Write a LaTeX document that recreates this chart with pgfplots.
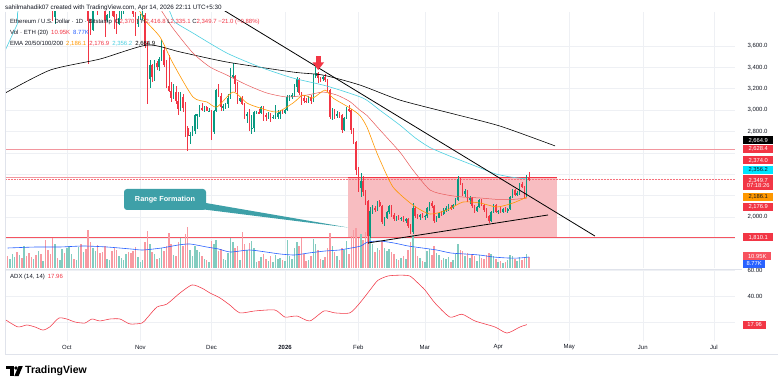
\documentclass[border=0pt]{standalone}
\usepackage{pgfplots}
\pgfplotsset{compat=1.18}
\usepackage{pgfplotstable}
\usepackage{fontspec}
\setmainfont{Liberation Sans}
\newcommand{\fs}[1]{\fontsize{#1}{#1}\selectfont}
\definecolor{upc}{HTML}{089981}
\definecolor{dnc}{HTML}{F23645}
\definecolor{volup}{HTML}{83CCC0}
\definecolor{voldn}{HTML}{F89AA2}
\definecolor{volma}{HTML}{2962FF}
\definecolor{emaA}{HTML}{FF9800}
\definecolor{emaB}{HTML}{E85A5A}
\definecolor{emaC}{HTML}{4DD0E1}
\definecolor{emaCbox}{HTML}{00E5FF}
\definecolor{gridc}{HTML}{EEF0F4}
\definecolor{bordc}{HTML}{E0E3EB}
\definecolor{txt}{HTML}{131722}
\definecolor{pinkr}{HTML}{F8BDC1}
\definecolor{lvl}{HTML}{F2969E}
\definecolor{callc}{HTML}{3EA0A8}
\definecolor{adxc}{HTML}{F23645}
\definecolor{volbox}{HTML}{F7525F}

\pgfplotstableread{
d o h l c v
-117 4300 4330 4270 4275 12
-116 4275 4320 4260 4305 9
-115 4305 4380 4280 4310 14
-114 4310 4370 4270 4350 11
-113 4350 4380 4290 4310 16
-112 4310 4460 4300 4450 13
-111 4450 4500 4390 4420 10
-110 4420 4680 4410 4660 22
-109 4660 4670 4580 4610 12
-108 4610 4620 4480 4530 15
-107 4530 4560 4450 4500 11
-106 4500 4530 4450 4510 9
-105 4510 4520 4440 4490 13
-104 4490 4600 4470 4570 17
-103 4570 4590 4460 4470 14
-102 4470 4490 4450 4480 7
-101 4480 4490 4080 4200 28
-100 4200 4220 4100 4170 18
-99 4170 4190 4080 4150 14
-98 4150 4160 3830 3870 30
-97 3870 4030 3810 4020 24
-96 4020 4030 3980 4000 10
-95 4000 4060 3990 4030 8
-94 4030 4230 3970 4210 19
-93 4210 4230 4100 4140 15
-92 4140 4360 4120 4350 20
-91 4350 4500 4330 4480 22
-90 4480 4540 4440 4510 14
-89 4510 4530 4460 4490 9
-88 4490 4540 4480 4510 8
-87 4510 4760 4500 4690 21
-86 4690 4750 4460 4470 24
-85 4470 4530 4380 4520 16
-84 4520 4530 4330 4370 19
-83 4370 4390 3435 3830 38
-82 3830 3850 3700 3750 26
-81 3750 4160 3740 4150 20
-80 4150 4290 4060 4250 17
-79 4250 4270 3890 4130 23
-78 4130 4200 3980 4030 15
-77 4030 4140 3930 3980 16
-76 3980 4020 3680 3840 22
-75 3840 3900 3820 3890 9
-74 3890 4020 3860 3980 8
-73 3980 4080 3880 3960 17
-72 3960 4100 3760 3870 20
-71 3870 3900 3710 3810 18
-70 3810 3950 3800 3860 12
-69 3860 3960 3850 3950 10
-68 3950 4010 3900 3960 8
-67 3960 4150 3930 4140 14
-66 4140 4250 4100 4120 16
-65 4120 4140 3940 3980 15
-64 3980 4030 3870 3900 17
-63 3900 3920 3690 3810 21
-62 3810 3880 3780 3850 11
-61 3850 3900 3840 3870 6
-60 3870 3930 3840 3890 8
-59 3890 3910 3580 3600 26
-58 3600 3650 3060 3290 37
-57 3290 3470 3210 3420 24
-56 3420 3430 3260 3310 16
-55 3310 3470 3270 3440 14
-54 3440 3460 3380 3400 9
-53 3400 3500 3370 3480 10
-52 3480 3660 3460 3560 20
-51 3560 3590 3400 3420 17
-50 3420 3470 3210 3230 22
-49 3230 3520 3170 3180 35
-48 3180 3260 3080 3110 24
-47 3110 3240 3100 3170 13
-46 3170 3230 3060 3090 12
-45 3090 3170 2950 3010 26
-44 3010 3170 2990 3120 30
-43 3120 3150 2980 3020 22
-42 3020 3080 2750 2830 34
-41 2830 2850 2620 2760 41
-40 2760 2800 2680 2770 18
-39 2770 2850 2760 2800 12
-38 2800 2960 2780 2950 22
-37 2950 2960 2820 2960 18
-36 2960 3050 2940 3020 16
-35 3020 3070 2990 3010 12
-34 3010 3040 2980 3030 9
-33 3030 3040 2990 2990 8
-32 2990 3020 2980 2990 6
-31 2990 3000 2720 2800 27
-30 2800 3000 2780 2990 24
-29 2990 3200 2980 3190 28
-28 3190 3240 3120 3130 17
-27 3130 3160 2990 3030 19
-26 3030 3060 2990 3030 9
-25 3030 3070 3010 3060 8
-24 3060 3150 3020 3110 15
-23 3110 3390 3100 3320 30
-22 3320 3440 3300 3320 26
-21 3320 3330 3170 3240 20
-20 3240 3260 3060 3090 22
-19 3090 3120 3080 3110 8
-18 3110 3130 3050 3060 36
-17 3060 3070 2920 2950 24
-16 2950 2980 2880 2960 18
-15 2960 3010 2800 2830 25
-14 2830 2950 2780 2830 27
-13 2830 2990 2800 2980 20
-12 2980 2990 2960 2980 6
-11 2980 3010 2960 2970 7
-10 2970 3040 2960 3030 11
-9 3030 3040 2900 2950 14
-8 2950 2970 2900 2940 9
-7 2940 2980 2920 2960 7
-6 2960 2970 2890 2930 12
-5 2930 2950 2920 2940 6
-4 2940 3050 2920 2940 13
-3 2940 3000 2920 2970 9
-2 2970 3000 2920 2980 10
-1 2980 3000 2960 2970 8
0 2970 3010 2960 3000 7
1 3000 3140 2990 3120 28
2 3120 3140 3090 3130 12
3 3130 3160 3100 3140 9
4 3140 3240 3120 3220 20
5 3220 3310 3170 3290 26
6 3290 3300 3140 3160 22
7 3160 3170 3050 3110 30
8 3110 3140 3070 3090 14
9 3090 3110 3070 3080 7
10 3080 3130 3070 3120 8
11 3120 3140 3060 3090 12
12 3090 3340 3080 3320 29
13 3320 3400 3300 3350 24
14 3350 3360 3250 3300 18
15 3300 3310 3260 3290 9
16 3290 3320 3270 3310 8
17 3310 3340 3260 3280 11
18 3280 3290 3170 3190 20
19 3190 3200 2920 2940 35
20 2940 3020 2910 2980 22
21 2980 3010 2920 2950 16
22 2950 2990 2930 2960 12
23 2960 2980 2930 2950 8
24 2950 2960 2790 2810 20
25 2810 2940 2800 2930 18
26 2930 3030 2920 3010 27
27 3010 3050 2980 3000 14
28 3000 3010 2780 2810 32
29 2810 2830 2680 2700 38
30 2700 2710 2390 2440 40
31 2440 2470 2230 2270 30
32 2270 2410 2190 2340 34
33 2340 2380 2200 2230 28
34 2230 2250 2110 2150 36
35 2150 2160 1750 1820 50
36 1820 2090 1800 2060 44
37 2060 2110 2030 2085 24
38 2085 2100 2050 2070 16
39 2070 2150 2060 2140 20
40 2140 2160 2090 2100 18
41 2100 2110 1930 1950 27
42 1950 2000 1920 1990 20
43 1990 2060 1980 2050 17
44 2050 2110 2030 2100 19
45 2100 2110 2000 2020 16
46 2020 2040 1960 1980 14
47 1980 2010 1960 2000 9
48 2000 2020 1970 1985 8
49 1985 2000 1960 1990 10
50 1990 2010 1950 1970 12
51 1970 1990 1940 1980 9
52 1980 1990 1900 1920 18
53 1920 1930 1840 1860 26
54 1860 2130 1845 2080 33
55 2080 2100 1990 2010 20
56 2010 2030 1980 2000 12
57 2000 2030 1970 2020 10
58 2020 2040 1990 2000 7
59 2000 2020 1970 2010 6
60 2010 2090 1995 2080 17
61 2080 2140 2060 2130 19
62 2130 2150 2080 2100 13
63 2100 2110 1940 1960 22
64 1960 2010 1950 1995 15
65 1995 2050 1990 2040 13
66 2040 2060 2010 2030 8
67 2030 2080 2020 2070 10
68 2070 2100 2050 2080 9
69 2080 2120 2060 2090 11
70 2090 2110 2070 2080 6
71 2080 2120 2075 2110 8
72 2110 2180 2100 2160 14
73 2160 2380 2150 2360 24
74 2360 2370 2300 2315 18
75 2315 2320 2200 2215 17
76 2215 2260 2190 2240 12
77 2240 2250 2140 2160 15
78 2160 2200 2120 2180 10
79 2180 2190 2080 2100 14
80 2100 2110 2040 2060 12
81 2060 2100 2050 2090 7
82 2090 2170 2080 2160 13
83 2160 2170 2100 2110 10
84 2110 2120 2050 2065 9
85 2065 2080 1990 2010 13
86 2010 2020 1940 1960 15
87 1960 2060 1950 2050 14
88 2050 2120 2040 2110 12
89 2110 2120 2040 2050 9
90 2050 2070 2030 2060 6
91 2060 2090 2040 2050 7
92 2050 2085 2040 2075 5
93 2075 2090 2050 2065 6
94 2065 2080 2040 2075 8
95 2075 2200 2070 2190 13
96 2190 2260 2180 2250 12
97 2250 2260 2200 2210 9
98 2210 2240 2195 2220 7
99 2220 2320 2210 2310 11
100 2310 2330 2270 2280 8
101 2280 2290 2180 2195 10
102 2195 2395 2185 2370.7 14
103 2370.7 2416.8 2335.1 2349.7 11
}\candles

\pgfplotsset{
  tvaxis/.style={scale only axis, anchor=south west, width=730pt,
    xmin=-118.1, xmax=189.9, axis line style={draw=none}, tick style={draw=none},
    xtick={-92,-61,-31,0,31,59,90,120,151,181}, xticklabels={},
    /pgf/number format/assume math mode=true, scaled y ticks=false},
  upsel/.style={restrict expr to domain={\thisrow{c}-\thisrow{o}}{0:100000}},
  dnsel/.style={restrict expr to domain={\thisrow{c}-\thisrow{o}}{-100000:-0.001}},
  candle/.style n args={3}{draw=none, mark=none, forget plot, #1, error bars/.cd, y dir=both, y explicit,
    error mark=none, error bar style={draw=#2, line width=#3, solid}},
}

\begin{document}
\begin{tikzpicture}[x=1pt,y=1pt]
\path[fill=white,use as bounding box] (0,0) rectangle (783,388);

% ---------- price pane: grid, labels, levels, range box ----------
\begin{axis}[tvaxis, at={(5pt,120pt)}, height=256pt, ymin=1523, ymax=3918,
  xmajorgrids, ymajorgrids, grid style={gridc, line width=0.5pt},
  ytick={2000,2800,3000,3200,3400,3600},
  extra y ticks={1800,2200,2400,2600}, extra y tick labels={},
  extra y tick style={grid=major},
  yticklabel pos=right,
  yticklabel style={anchor=west, xshift=9pt, font=\fs{6}, text=txt,
    /pgf/number format/fixed, /pgf/number format/fixed zerofill,
    /pgf/number format/precision=1, /pgf/number format/1000 sep={,}}]
\addplot[draw=none, fill=pinkr] coordinates {(26.6,1810.1) (26.6,2374) (114.8,2374) (114.8,1810.1)} -- cycle;
\addplot[lvl, line width=1pt] coordinates {(-118.1,2628.4) (189.9,2628.4)};
\addplot[lvl, line width=0.7pt] coordinates {(-118.1,2374) (114.8,2374)};
\addplot[dnc, line width=0.8pt] coordinates {(26.6,2374) (114.8,2374)};
\addplot[dnc!70, densely dotted, line width=0.5pt] coordinates {(-118.1,2349.7) (189.9,2349.7)};
\addplot[dnc!85, line width=0.7pt] coordinates {(-118.1,1810.1) (189.9,1810.1)};
\end{axis}

% ---------- volume ----------
\begin{axis}[tvaxis, at={(5pt,120pt)}, height=256pt, ymin=0, ymax=256, ytick=\empty, xtick=\empty]
\addplot[ycomb, draw=volup, line width=1.5pt, mark=none, upsel] table[x=d, y=v] {\candles};
\addplot[ycomb, draw=voldn, line width=1.5pt, mark=none, dnsel] table[x=d, y=v] {\candles};
\addplot[volma, line width=0.6pt, mark=none, smooth, tension=0.4] coordinates {
(-117,20) (-105,21) (-95,21) (-85,22) (-75,21) (-65,19) (-60,18) (-52,20) (-45,23) (-40,24)
(-33,21) (-28,19) (-23,16) (-15,18) (-8,16) (-2,14) (4,13) (10,15) (17,17) (23,18) (28,20)
(32,22) (35,26) (40,27) (46,25) (52,22) (58,20) (64,18) (70,15) (76,14) (82,13) (88,11)
(94,10) (99,10) (103,11)};
\end{axis}

% ---------- candles, EMAs, trendlines ----------
\begin{axis}[tvaxis, at={(5pt,120pt)}, height=256pt, ymin=1523, ymax=3918, ytick=\empty, xtick=\empty]
\addplot[candle={upsel}{upc}{0.5pt}]
  table[x=d, y expr={(\thisrow{h}+\thisrow{l})/2}, y error expr={(\thisrow{h}-\thisrow{l})/2}] {\candles};
\addplot[candle={dnsel}{dnc}{0.5pt}]
  table[x=d, y expr={(\thisrow{h}+\thisrow{l})/2}, y error expr={(\thisrow{h}-\thisrow{l})/2}] {\candles};
\addplot[candle={upsel}{upc}{1.6pt}]
  table[x=d, y expr={(\thisrow{o}+\thisrow{c})/2}, y error expr={max(abs(\thisrow{c}-\thisrow{o})/2,4)}] {\candles};
\addplot[candle={dnsel}{dnc}{1.6pt}]
  table[x=d, y expr={(\thisrow{o}+\thisrow{c})/2}, y error expr={max(abs(\thisrow{c}-\thisrow{o})/2,4)}] {\candles};
\addplot[black, line width=0.6pt, mark=none, smooth, tension=0.4] coordinates {
(-118,3160) (-99,3375) (-78,3478) (-58,3609) (-44,3543) (-24.5,3450) (3.4,3356) (16,3328)
(31.6,3235) (48.5,3094) (69.6,2973) (90.7,2851) (114,2665)};
\addplot[emaC, line width=0.6pt, mark=none, smooth, tension=0.4] coordinates {
(-118,3560) (-113,3800) (-109,3990) (-60,4050) (-50,3960) (-48.5,3918) (-46.4,3824) (-38.8,3721)
(-24.5,3534) (-10.5,3403) (3.4,3300) (17.7,3225) (32.9,3113) (40,3000) (48.5,2860) (55,2740)
(61.2,2650) (69.6,2570) (82.3,2460) (88.6,2405) (95,2375) (102,2356.2)};
\addplot[emaB, line width=0.5pt, mark=none, smooth, tension=0.4] coordinates {
(-58,4100) (-52.7,3950) (-47.3,3768) (-38.8,3534) (-31.6,3403) (-24.5,3328) (-16,3235)
(-7.6,3160) (0.8,3123) (9.3,3141) (16,3169) (21.9,3141) (27.4,3080) (31.6,3000) (34.6,2950)
(40.1,2814) (48.5,2608) (54,2440) (61.2,2253) (68.4,2206) (75.1,2187) (82.3,2178) (89.5,2165)
(96.2,2165) (102.1,2176.9)};
\addplot[emaA, line width=0.6pt, mark=none, smooth, tension=0.4] coordinates {
(-63,4000) (-59.1,3843) (-52.7,3684) (-47.3,3441) (-38.8,3123) (-32.9,3076) (-28.7,3029)
(-21.9,3169) (-16,3066) (-10.5,3020) (-3.4,2982) (3.4,3066) (7.6,3141) (11.8,3113) (16.9,3188)
(20.3,3113) (27.4,3020) (31.6,2950) (34.6,2842) (38,2645) (40.1,2533) (45.6,2281) (54,2112)
(61.2,2028) (68.4,2065) (75.1,2140) (82.3,2131) (89.5,2094) (96.2,2131) (102.1,2186.1)};
\addplot[black, line width=0.8pt, mark=none] coordinates {(-40,4126) (130.8,1822)};
\addplot[black, line width=0.8pt, mark=none] coordinates {(35,1757) (111,2019)};
\end{axis}

% ---------- ADX pane ----------
\begin{axis}[tvaxis, at={(5pt,47pt)}, height=71pt, ymin=5.38, ymax=60,
  xmajorgrids, ymajorgrids, grid style={gridc, line width=0.5pt},
  ytick={40,60}, extra y ticks={20}, extra y tick labels={}, extra y tick style={grid=major},
  yticklabel pos=right,
  yticklabel style={anchor=west, xshift=9pt, font=\fs{6}, text=txt,
    /pgf/number format/fixed, /pgf/number format/fixed zerofill,
    /pgf/number format/precision=2}]
\addplot[adxc, line width=0.55pt, mark=none, smooth, tension=0.4] coordinates {
(-117.7,21.5) (-112.7,16.2) (-108.9,17.7) (-105.5,16.2) (-102.1,13.8) (-99.2,16.2) (-95.4,23)
(-92,22.3) (-88.6,20) (-84.4,19.2) (-81.4,22.3) (-78.1,20.8) (-73.8,22.3) (-69.6,22.3)
(-65.4,18.5) (-60.3,19.2) (-58.2,23) (-54,31.5) (-49.8,33.8) (-44.3,42.3) (-39.2,48.5)
(-35,46) (-31.6,42.3) (-27.4,38.5) (-23.2,33) (-19,27) (-12.7,28.5) (-4.2,29.2) (0,23.8)
(5.1,24.6) (10.5,20.8) (16.5,28.5) (21.1,27) (27.4,27) (31.6,34.6) (35.9,44.6) (39.2,52)
(43.5,55.4) (48.5,56) (52.7,55.4) (56.1,50) (59.1,44.6) (63.3,34.6) (69.6,23.8) (74.7,26)
(80.2,20.8) (88.6,16.2) (93.7,11.5) (99.2,16.2) (102.1,17.96)};
\end{axis}

% ---------- annotations in pixel coordinates ----------
\begin{scope}[shift={(0,388)}, yscale=-1]
\draw[bordc, line width=0.5pt] (5,12) -- (5,354) -- (778,354);
\draw[bordc, line width=0.7pt] (5,269.5) -- (742,269.5);
\foreach \xx/\lab in {66.9/Oct, 140.4/Nov, 211.5/Dec, 358.4/Feb, 424.8/Mar, 498.2/Apr, 569.3/May, 642.8/Jun, 713.9/Jul}
  \node[text=txt, font=\fs{6}, inner sep=0] at (\xx,347) {\lab};
\node[text=txt, font=\bfseries\fs{6}, inner sep=0] at (285,347) {2026};
\fill[callc, rounded corners=3pt] (124,189) rectangle (206,210);
\fill[callc] (200,202) -- (348,227.5) -- (200,209) -- cycle;
\node[text=white, font=\bfseries\fs{7.3}] at (165,199.5) {Range Formation};
\fill[dnc] (316,56) rectangle (320.5,63);
\fill[dnc] (312.5,62.5) -- (324,62.5) -- (318.25,70) -- cycle;
\node[anchor=west, text=txt, font=\fs{6.3}, inner sep=0] at (5,8) {sahilmahadik07 created with TradingView.com, Apr 14, 2026 22:11 UTC+5:30};
\node[anchor=west, text=txt, font=\fs{6}, inner sep=0] at (10,22) {Ethereum / U.S. Dollar · 1D · Bitstamp\enspace O\textcolor{dnc}{2,370.7} H\textcolor{dnc}{2,416.8} L\textcolor{dnc}{2,335.1} C\textcolor{dnc}{2,349.7} \textcolor{dnc}{−21.0 (−0.88\%)}};
\node[anchor=west, text=txt, font=\fs{6}, inner sep=0] at (10,33) {Vol · ETH (20)\enspace\textcolor{dnc}{10.95K}\enspace\textcolor{volma}{8.77K}};
\node[anchor=west, text=txt, font=\fs{6}, inner sep=0] at (10,44) {EMA 20/50/100/200\enspace\textcolor{emaA}{2,186.1}\enspace\textcolor{dnc}{2,176.9}\enspace\textcolor{emaC}{2,356.2}\enspace\textcolor{black}{2,664.9}};
\node[anchor=west, text=txt, font=\fs{6}, inner sep=0] at (10,277) {ADX (14, 14)\enspace\textcolor{dnc}{17.96}};
\tikzset{pb/.style={anchor=west, text=white, font=\fs{5.8}, inner sep=0pt, minimum width=30pt, minimum height=8pt}}
\node[pb, fill=black] at (743,140.5) {2,664.9};
\node[pb, fill=dnc] at (743,149) {2,628.4};
\node[pb, fill=dnc] at (743,160.5) {2,374.0};
\node[pb, fill=emaCbox, text=txt] at (743,170) {2,356.2};
\node[pb, fill=dnc, minimum height=15pt, align=center] at (743,183) {2,349.7\\[-0.5pt]07:18:26};
\node[pb, fill=emaA, text=txt] at (743,197) {2,186.1};
\node[pb, fill=dnc] at (743,207) {2,176.9};
\node[pb, fill=dnc] at (743,237.5) {1,810.1};
\node[pb, fill=volbox, minimum width=28pt] at (743,256.5) {10.95K};
\node[pb, fill=volma, minimum width=22pt] at (743,264) {8.77K};
\node[pb, fill=dnc, minimum width=23pt] at (743,325) {17.96};
\fill[black] (6,366) rectangle (13.6,369.4);
\fill[black] (10.2,366) rectangle (13.6,376);
\fill[black] (16,368) circle (1.8);
\fill[black] (18.6,366) -- (22.8,366) -- (18.6,376) -- (14.4,376) -- cycle;
\node[anchor=west, text=black, font=\bfseries\fs{10.5}, inner sep=0] at (25,371) {TradingView};
\end{scope}
\end{tikzpicture}
\end{document}
